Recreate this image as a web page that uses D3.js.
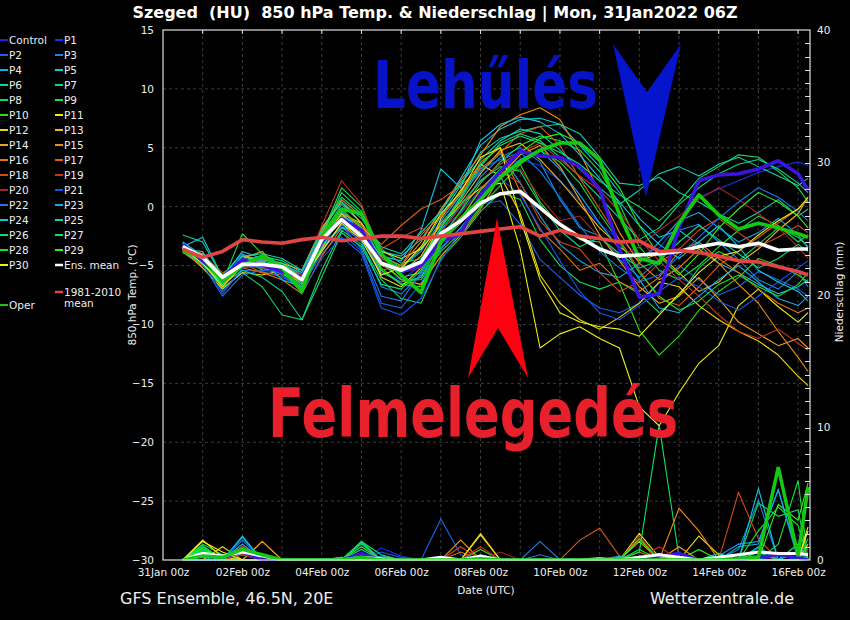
<!DOCTYPE html>
<html>
<head>
<meta charset="utf-8">
<script src="https://cdn.jsdelivr.net/npm/d3@7"></script>
<style>
body { margin: 0; background: #000; }
svg { display: block; font-family: 'DejaVu Sans', sans-serif; }
</style>
</head>
<body>
<svg id="chart" width="850" height="620"></svg>
<script>
// forecast steps, hours after 31Jan2022 00z
const hours = [12,24,36,48,60,72,84,96,108,120,132,144,156,168,180,192,204,216,228,240,252,264,276,288,300,312,324,336,348,360,372,384,390]
// labelled days on the time axis, days after 31Jan2022
const xTickDays = [0,2,4,6,8,10,12,14,16]

const yTicks = [15,10,5,0,-5,-10,-15,-20,-25,-30]
const rTicks = [0,10,20,30,40]

// 850 hPa temperature (°C)
const controlT = [-3.2,-4.6,-6.0,-4.5,-5.0,-5.5,-6.0,-3.0,-1.0,-2.0,-4.8,
  -5.5,-5.0,-3.0,-2.3,1.0,3.0,4.7,4.3,4.2,3.4,1.5,
  -3.6,-7.7,-7.4,-1.8,2.2,2.7,2.8,3.2,3.9,2.8,1.4]
const operT = [-3.8,-4.3,-6.3,-5.0,-4.2,-5.2,-7.2,-2.5,-0.2,-0.6,-4.0,
  -5.8,-7.3,-3.0,-1.0,0.6,2.5,3.8,4.8,5.4,5.4,4.0,
  -0.7,-4.4,-4.8,-1.4,1.0,-0.7,-1.9,-1.4,-1.8,-2.3,-2.6]
const meanT = [-3.4,-4.3,-6.0,-4.9,-4.9,-5.1,-6.2,-2.8,-1.1,-2.5,-4.8,
  -5.4,-4.7,-2.3,-1.2,0.3,1.1,1.3,-0.1,-1.5,-2.6,-3.6,
  -4.2,-4.1,-4.0,-3.8,-3.4,-3.1,-3.4,-3.1,-3.7,-3.6,-3.6]
const climT = [-3.6,-4.3,-3.8,-2.8,-3.0,-3.1,-2.8,-2.6,-2.9,-2.7,-2.5,
  -2.5,-2.7,-2.5,-2.3,-2.1,-1.9,-1.7,-2.5,-2.0,-2.5,-2.7,
  -3.0,-2.9,-3.8,-3.7,-3.9,-4.2,-4.6,-4.7,-5.1,-5.5,-5.8]

const p1T = [-3.6,-4.8,-6.8,-4.6,-5.2,-5.6,-6.5,-3.4,-1.8,-2.9,-5.6,
  -6.2,-5.0,-2.0,-0.5,1.5,3.2,4.0,3.5,2.2,0.5,-1.5,
  -2.8,-4.2,-3.5,-1.5,0.8,1.5,2.2,2.9,3.4,3.8,3.5]
const p2T = [-3.3,-4.4,-7.2,-5.4,-5.5,-6.0,-6.8,-4.0,-2.2,-3.8,-8.2,
  -8.6,-6.5,-3.5,-1.8,0.2,0.5,-1.5,-4.5,-6.0,-7.5,-8.6,
  -9.0,-8.2,-6.5,-5.0,-6.2,-7.5,-6.8,-5.5,-6.2,-7.0,-7.6]
const p3T = [-3.5,-4.3,-6.0,-4.4,-4.6,-5.8,-7.0,-3.6,-1.5,-3.0,-6.8,
  -7.4,-5.8,-2.8,-0.3,2.5,4.2,5.0,3.8,0.6,-1.8,-2.5,
  -4.5,-6.0,-4.5,-2.0,-1.5,-3.0,-4.5,-6.2,-7.0,-5.5,-6.8]
const p4T = [-3.0,-4.2,-5.8,-4.0,-5.0,-5.4,-6.0,-2.2,-0.6,-2.0,-4.8,
  -5.2,-3.8,-1.2,1.0,3.0,4.5,2.0,-0.8,-3.2,-4.6,-5.6,
  -6.0,-4.8,-3.0,-1.2,-0.5,-1.8,-3.0,-2.2,-1.0,-2.4,-3.5]
const p5T = [-3.4,-2.6,-6.0,-3.8,-4.4,-4.8,-5.8,-2.6,-0.8,-1.6,-3.8,
  -4.2,-2.8,-0.4,2.4,5.2,6.6,7.4,7.5,7.0,5.2,3.4,
  1.2,-1.0,-2.6,-2.0,-3.2,-4.8,-5.6,-6.6,-7.4,-6.8,-6.2]
const p6T = [-3.8,-4.9,-6.4,-4.9,-4.6,-5.0,-6.4,-2.5,0.2,-1.4,-4.4,
  -5.2,-3.6,-0.8,1.8,4.6,5.8,6.4,6.8,7.0,6.2,4.2,
  2.0,1.8,2.5,1.2,0.4,-0.6,-1.4,-0.5,0.6,-0.8,-0.2]
const p7T = [-3.2,-4.4,-6.6,-4.6,-4.2,-4.6,-5.6,-2.0,0.8,-0.6,-3.6,
  -4.8,-4.4,-1.8,0.6,3.4,5.4,6.2,5.6,4.2,2.5,0.8,
  -1.0,-2.8,-1.8,0.2,1.6,2.8,3.6,4.0,3.2,2.0,1.2]
const p8T = [-3.5,-4.8,-6.9,-5.6,-6.8,-9.2,-9.6,-5.4,-2.0,-3.2,-6.2,
  -7.8,-8.2,-4.4,-2.6,-0.4,1.2,0.6,-2.8,-5.0,-6.4,-7.0,
  -6.4,-7.4,-9.0,-7.6,-5.2,-3.8,-4.6,-3.2,-1.8,-2.6,-3.4]
const p9T = [-3.3,-4.5,-6.2,-4.2,-4.8,-5.3,-6.8,-2.4,1.6,0.0,-4.0,
  -6.0,-5.6,-2.6,-0.4,2.0,3.8,5.2,6.0,5.6,4.8,3.0,
  0.2,-3.4,-5.4,-6.2,-5.0,-3.4,-2.0,-0.8,-1.6,-3.0,-2.4]
const p10T = [-3.6,-4.0,-5.8,-4.4,-5.4,-5.2,-6.2,-3.0,-1.2,-2.2,-5.2,
  -6.6,-6.0,-3.0,-1.4,0.8,2.8,3.6,0.4,-1.6,-2.8,-3.0,
  -6.5,-10.5,-12.6,-11.0,-8.8,-7.2,-6.0,-4.4,-5.0,-5.8,-6.4]
const p11T = [-3.4,-4.7,-6.6,-4.8,-5.2,-5.4,-6.4,-3.0,-0.6,-1.4,-3.8,
  -4.4,-3.6,-1.6,0.2,1.6,2.0,-3.6,-12.0,-10.8,-10.2,-11.2,
  -12.0,-17.0,-18.6,-15.8,-13.3,-11.8,-8.4,-7.0,-8.5,-9.8,-9.0]
const p12T = [-3.7,-5.2,-7.0,-5.6,-5.8,-5.4,-6.6,-3.6,-0.6,-2.2,-6.0,
  -6.8,-5.2,-1.0,1.4,3.6,2.6,-0.6,-5.8,-8.2,-9.6,-10.4,
  -9.4,-8.2,-6.4,-6.8,-8.4,-9.6,-10.6,-11.4,-12.6,-14.4,-15.2]
const p13T = [-3.1,-4.6,-6.4,-4.2,-4.5,-4.8,-5.4,-1.8,0.4,-1.4,-5.0,
  -5.6,-4.2,-1.4,0.4,2.8,4.8,5.4,4.0,2.2,0.2,-1.8,
  -3.4,-4.6,-4.0,-5.6,-7.2,-6.4,-4.8,-3.6,-2.0,-0.6,0.8]
const p14T = [-3.5,-4.0,-6.6,-4.4,-3.8,-5.6,-6.4,-2.6,-0.4,-1.8,-4.6,
  -6.2,-6.6,-4.2,-2.4,-0.2,2.6,4.4,5.2,3.4,0.6,-2.4,
  -4.6,-6.8,-8.2,-7.6,-6.0,-7.8,-9.8,-10.8,-11.8,-11.2,-12.0]
const p15T = [-3.3,-4.5,-6.2,-4.6,-5.0,-5.2,-6.0,-2.2,0.6,-0.8,-4.2,
  -5.0,-3.0,-0.2,2.2,4.4,6.8,7.8,8.4,7.4,4.6,1.2,
  -2.2,-4.8,-6.2,-5.2,-3.6,-4.8,-6.6,-8.2,-10.6,-12.8,-14.0]
const p16T = [-3.9,-5.0,-6.2,-5.2,-5.6,-6.2,-7.4,-4.2,-1.8,-2.6,-5.4,
  -5.0,-2.4,-0.8,1.0,3.8,5.0,1.2,-2.0,-3.6,-5.4,-4.8,
  -6.4,-7.2,-6.0,-3.8,-3.0,-4.4,-5.6,-7.0,-8.2,-9.0,-8.6]
const p17T = [-3.4,-4.1,-5.6,-4.8,-5.6,-5.8,-6.2,-3.0,-0.4,-1.6,-3.2,
  -1.6,-0.2,0.6,1.8,3.2,4.6,6.2,6.8,5.2,2.4,-0.2,
  -2.8,-5.4,-7.8,-8.4,-6.8,-5.0,-3.8,-2.6,-1.4,-0.2,0.6]
const p18T = [-3.6,-4.7,-6.0,-5.0,-4.4,-5.0,-5.8,-2.8,-1.0,-1.8,-3.6,
  -2.6,-1.8,-2.8,-1.2,1.6,3.0,2.0,-1.2,-3.0,-3.6,-5.6,
  -7.2,-6.4,-4.8,-3.6,-2.0,-1.0,-2.2,-3.4,-2.6,-1.6,-2.2]
const p19T = [-3.2,-4.3,-6.5,-5.0,-5.2,-5.4,-6.0,-1.6,2.2,0.2,-4.4,
  -5.4,-4.8,-2.2,0.0,2.2,3.6,4.6,5.4,4.0,2.6,1.4,
  -0.4,-2.8,-4.6,-6.2,-7.6,-9.2,-10.6,-11.2,-10.4,-11.6,-12.2]
const p20T = [-3.5,-4.4,-6.2,-4.6,-4.8,-5.0,-6.4,-3.2,-0.8,-2.4,-4.6,
  -5.6,-5.2,-2.6,-0.6,1.4,2.8,3.2,0.8,-1.2,-0.8,-2.6,
  -4.2,-3.4,-2.0,-0.8,0.6,1.6,0.6,-0.6,-1.8,-3.4,-4.4]
const p21T = [-3.4,-4.6,-7.4,-5.2,-5.0,-5.8,-7.2,-4.4,-2.6,-4.0,-8.6,
  -9.2,-7.8,-4.6,-2.0,0.6,2.4,1.0,-1.8,-4.6,-7.2,-9.0,
  -9.6,-8.4,-7.2,-6.0,-6.8,-8.0,-8.8,-7.6,-6.4,-5.2,-4.6]
const p22T = [-3.7,-4.9,-7.6,-5.8,-5.4,-5.6,-6.6,-3.8,-1.6,-3.6,-7.6,
  -8.0,-5.6,-1.6,0.8,3.2,4.0,4.6,3.0,0.8,-1.6,-3.8,
  -5.2,-6.4,-5.8,-4.2,-2.6,-1.0,0.4,1.6,0.8,-0.4,-1.2]
const p23T = [-3.0,-4.2,-6.4,-4.4,-5.2,-5.0,-5.6,-2.4,-0.4,-2.6,-5.6,
  -6.4,-6.0,-3.6,-1.8,0.4,2.6,4.0,4.8,3.2,1.0,-1.4,
  -3.6,-6.2,-8.6,-9.0,-7.6,-6.2,-5.0,-6.4,-7.8,-8.4,-7.6]
const p24T = [-3.6,-3.8,-6.8,-4.8,-4.6,-6.2,-6.8,-3.2,-1.8,-2.0,-4.2,
  -4.6,-2.0,3.2,1.6,5.6,7.0,7.6,7.2,6.2,4.4,2.4,
  0.4,-1.6,-3.2,-4.4,-3.0,-1.6,-3.4,-5.4,-6.4,-7.2,-8.0]
const p25T = [-2.4,-3.0,-6.0,-4.2,-4.0,-4.4,-5.4,-2.0,0.4,-1.0,-3.4,
  -4.0,-2.2,-0.4,2.0,4.0,5.6,6.6,6.2,4.8,3.2,1.6,
  0.2,1.4,2.8,3.4,2.6,3.6,4.2,3.4,2.6,1.8,2.4]
const p26T = [-3.8,-4.9,-6.6,-5.4,-6.0,-7.2,-9.6,-6.0,-2.2,-3.4,-6.6,
  -7.0,-5.4,-2.0,0.2,2.2,3.4,3.0,0.2,-2.0,-3.4,-2.6,
  -4.0,-5.2,-4.6,-3.0,-1.6,-2.8,-4.0,-5.2,-4.4,-3.2,-3.8]
const p27T = [-3.3,-4.4,-6.0,-4.6,-4.4,-4.8,-6.0,-2.6,1.2,-0.4,-4.0,
  -5.2,-4.6,-1.8,0.8,3.6,5.2,6.0,5.4,4.6,3.6,2.2,
  1.0,0.0,-1.2,0.4,2.4,3.4,4.4,4.2,3.0,1.6,0.4]
const p28T = [-3.5,-4.7,-6.4,-2.3,-4.0,-5.0,-6.6,-3.4,-0.2,-1.8,-4.8,
  -6.2,-6.2,-3.8,-2.2,0.0,1.8,3.6,4.8,3.8,2.0,-0.6,
  -3.0,-5.6,-7.6,-8.8,-8.0,-6.6,-5.8,-6.8,-7.6,-6.6,-5.6]
const p29T = [-3.2,-4.2,-6.2,-4.6,-5.0,-5.6,-7.0,-2.8,-0.8,-2.0,-5.4,
  -6.6,-6.8,-3.2,-1.0,1.4,3.2,4.6,5.8,6.2,5.4,3.8,
  1.6,-1.6,-4.2,-5.8,-4.0,-1.8,-0.2,1.2,0.4,-0.8,-1.8]
const p30T = [-3.6,-4.8,-6.8,-5.0,-4.8,-5.2,-6.2,-3.8,-1.4,-2.8,-5.8,
  -5.2,-3.4,-0.6,1.2,4.2,5.0,-1.0,-6.2,-9.0,-9.8,-10.2,
  -10.4,-11.0,-9.2,-7.4,-5.6,-4.2,-3.8,-2.4,-1.2,-0.2,0.8]

// precipitation (mm) as [hour, mm]; every other step is dry
const controlR = [[24,0.4],[36,0.2],[48,0.6],[120,0.5],[168,0.2],[192,0.3],[300,0.3],[312,0.5],[360,0.2],[372,0.4],[384,0.2]]
const operR = [[24,0.3],[36,0.2],[48,0.8],[60,0.4],[120,0.2],[192,0.1],[348,0.1],[360,0.2],[372,7.0],[384,0.3],[390,5.5]]
const meanR = [[24,0.5],[36,0.3],[48,0.6],[60,0.3],[120,0.2],[132,0.1],[168,0.2],[192,0.3],[264,0.1],[288,0.2],[300,0.4],[312,0.2],[336,0.2],[348,0.4],[360,0.6],[372,0.5],[384,0.5],[390,0.4]]
const p1R = [[132,0.9],[144,0.3],[300,0.4],[372,0.3]]
const p2R = [[168,3.1],[180,0.4],[372,0.6]]
const p3R = [[48,0.8],[228,1.4],[348,0.8],[360,4.5]]
const p4R = [[48,1.7],[132,0.3],[348,1.0],[360,1.2],[372,5.3]]
const p5R = [[24,0.3],[48,1.0],[360,5.4],[384,0.6]]
const p6R = [[36,0.4],[120,0.5],[276,0.2],[384,1.2],[390,2.0]]
const p7R = [[120,1.2],[300,0.3],[360,1.0],[390,1.6]]
const p8R = [[24,1.0],[48,0.6],[120,1.3],[360,4.3],[372,3.3],[384,3.8]]
const p9R = [[24,1.2],[36,0.4],[288,0.8],[372,1.2],[384,6.0]]
const p10R = [[24,0.8],[48,0.4],[192,0.8],[300,0.5],[348,0.4]]
const p11R = [[24,1.5],[36,0.2],[288,2.0],[300,0.2],[390,2.5]]
const p12R = [[36,1.0],[192,0.3],[324,1.8],[336,0.4]]
const p13R = [[48,0.5],[192,2.0],[288,1.4],[390,1.2]]
const p14R = [[60,1.4],[192,0.2],[312,1.0]]
const p15R = [[60,1.4],[180,1.5],[288,1.6],[312,3.9],[324,2.2]]
const p16R = [[24,0.6],[48,0.8],[180,0.6],[288,0.6]]
const p17R = [[48,1.2],[252,1.5],[264,2.4],[276,0.3]]
const p18R = [[48,1.0],[180,1.0],[288,1.8],[348,5.1],[360,1.6]]
const p19R = [[48,0.6],[192,1.0],[300,1.0],[390,0.8]]
const p20R = [[48,0.4],[204,0.6],[360,0.4]]
const p21R = [[132,0.6],[144,0.2],[168,0.2]]
const p22R = [[48,1.5],[228,0.4],[360,0.9]]
const p23R = [[48,1.2],[108,0.2],[336,0.3],[348,1.2],[360,1.4],[372,5.3],[384,0.3]]
const p24R = [[48,1.8],[108,0.2],[276,0.3],[348,0.4]]
const p25R = [[24,0.7],[120,0.8],[288,0.3],[336,0.5],[384,1.2]]
const p26R = [[24,0.9],[120,1.4],[300,0.4],[360,0.6],[390,1.0]]
const p27R = [[24,1.1],[120,1.4],[132,0.4],[288,0.6],[300,10.2],[312,0.2],[360,0.6]]
const p28R = [[24,0.6],[192,0.4],[288,1.6],[360,2.2],[372,4.0],[384,2.6]]
const p29R = [[24,0.9],[48,0.7],[120,1.0],[324,0.8],[372,4.2],[384,3.0],[390,5.8]]
const p30R = [[24,1.4],[36,0.6],[192,1.9],[300,0.4],[390,2.2]]

const memberNames = ['P1','P2','P3','P4','P5','P6','P7','P8','P9','P10','P11','P12','P13','P14','P15',
  'P16','P17','P18','P19','P20','P21','P22','P23','P24','P25','P26','P27','P28','P29','P30']
const memberTemps = [p1T,p2T,p3T,p4T,p5T,p6T,p7T,p8T,p9T,p10T,p11T,p12T,p13T,p14T,p15T,
  p16T,p17T,p18T,p19T,p20T,p21T,p22T,p23T,p24T,p25T,p26T,p27T,p28T,p29T,p30T]
const memberRain = [p1R,p2R,p3R,p4R,p5R,p6R,p7R,p8R,p9R,p10R,p11R,p12R,p13R,p14R,p15R,
  p16R,p17R,p18R,p19R,p20R,p21R,p22R,p23R,p24R,p25R,p26R,p27R,p28R,p29R,p30R]
const memberColors = ['#1434f0','#1464ec','#1888f0','#14a8e8','#10c8dc','#10d0a4','#10d484','#10d860','#14e040','#28e010',
  '#f0f014','#f0d414','#f0bc14','#f0a414','#f08c10','#e07410','#e05c14','#d8441c','#c83020','#b02024',
  '#1454f0','#1878ec','#18a8f0','#10c4e4','#10d0ac','#10d884','#10e064','#14e030','#2cf014','#f0f014']

const controlColor = '#3c14e0'
const operColor = '#14c814'
const climColor = '#e24444'

const margin = { top: 30, right: 40, bottom: 60, left: 163 }
const width = 810 - margin.left
const height = 560 - margin.top

const svg = d3.select('#chart')
svg.append('rect').attr('width', 850).attr('height', 620).attr('fill', '#000')

const t0 = Date.UTC(2022, 0, 31, 0)
const toDate = h => new Date(t0 + h * 3600e3)

// scales
const x = d3.scaleUtc()
  .domain([toDate(0), toDate(391.2)])
  .range([0, width])
const y = d3.scaleLinear().domain([-30, 15]).range([height, 0])
const yr = d3.scaleLinear().domain([0, 40]).range([height, 0])

const graph = svg.append('g')
  .attr('transform', `translate(${margin.left}, ${margin.top})`)

svg.append('clipPath').attr('id', 'clip')
  .append('rect').attr('width', width).attr('height', height + 1)

// grid
const days = d3.utcDay.range(toDate(24), toDate(391))
graph.append('g').selectAll('line')
  .data(days)
  .enter().append('line')
    .attr('x1', d => x(d)).attr('x2', d => x(d))
    .attr('y1', 0).attr('y2', height)
    .attr('stroke', '#3c3c3c').attr('stroke-dasharray', '3,3')
graph.append('g').selectAll('line')
  .data(yTicks.slice(1, -1))
  .enter().append('line')
    .attr('x1', 0).attr('x2', width)
    .attr('y1', d => y(d)).attr('y2', d => y(d))
    .attr('stroke', '#3c3c3c').attr('stroke-dasharray', '3,3')

const plot = graph.append('g').attr('clip-path', 'url(#clip)')

const line = d3.line()
  .x((d, i) => x(toDate(hours[i])))
  .y(d => y(d))
const rainLine = d3.line()
  .x((d, i) => x(toDate(hours[i])))
  .y(d => yr(d))
const rainSeries = pairs => {
  const m = new Map(pairs)
  return hours.map(h => m.get(h) || 0)
}

// precipitation
memberRain.forEach((r, i) => {
  plot.append('path').datum(rainSeries(r))
    .attr('fill', 'none').attr('stroke', memberColors[i]).attr('stroke-width', 1.1)
    .attr('d', rainLine)
})
plot.append('path').datum(rainSeries(controlR))
  .attr('fill', 'none').attr('stroke', controlColor).attr('stroke-width', 3).attr('d', rainLine)
plot.append('path').datum(rainSeries(meanR))
  .attr('fill', 'none').attr('stroke', '#fff').attr('stroke-width', 3).attr('d', rainLine)
plot.append('path').datum(rainSeries(operR))
  .attr('fill', 'none').attr('stroke', operColor).attr('stroke-width', 3.5).attr('d', rainLine)

// temperature members
memberTemps.forEach((t, i) => {
  plot.append('path').datum(t)
    .attr('fill', 'none').attr('stroke', memberColors[i]).attr('stroke-width', 1.1)
    .attr('stroke-linejoin', 'round')
    .attr('d', line)
})
const thick = [[controlT, controlColor], [operT, operColor], [meanT, '#fff'], [climT, climColor]]
thick.forEach(([t, c]) => {
  plot.append('path').datum(t)
    .attr('fill', 'none').attr('stroke', c).attr('stroke-width', 3.6)
    .attr('stroke-linejoin', 'round')
    .attr('d', line)
})

// frame and axes
const axisColor = '#e0e0e0'
graph.append('rect').attr('width', width).attr('height', height)
  .attr('fill', 'none').attr('stroke', axisColor).attr('stroke-width', 1.2)

const xAxis = d3.axisBottom(x)
  .tickValues(xTickDays.map(d => toDate(d * 24)))
  .tickFormat(d3.utcFormat('%d%b %Hz'))
  .tickSize(0).tickPadding(9)
const xAxisGroup = graph.append('g')
  .attr('transform', `translate(0, ${height})`)
  .call(xAxis)
xAxisGroup.select('.domain').remove()
xAxisGroup.selectAll('text').attr('fill', '#eee').style('font-size', '10.5px')
  .style('font-family', "'DejaVu Sans', sans-serif")

// daily ticks along the top
graph.append('g').selectAll('line')
  .data(days)
  .enter().append('line')
    .attr('x1', d => x(d)).attr('x2', d => x(d))
    .attr('y1', 0).attr('y2', 4)
    .attr('stroke', axisColor)

const yAxis = d3.axisLeft(y).tickValues(yTicks).tickSize(0).tickPadding(9)
const yAxisGroup = graph.append('g').call(yAxis)
yAxisGroup.select('.domain').remove()
yAxisGroup.selectAll('text').attr('fill', '#eee').style('font-size', '10.5px')
  .style('font-family', "'DejaVu Sans', sans-serif")

const yrAxis = d3.axisRight(yr).tickValues(rTicks).tickSize(0).tickPadding(7)
const yrAxisGroup = graph.append('g').attr('transform', `translate(${width}, 0)`).call(yrAxis)
yrAxisGroup.select('.domain').remove()
yrAxisGroup.selectAll('text').attr('fill', '#eee').style('font-size', '10.5px')
  .style('font-family', "'DejaVu Sans', sans-serif")
graph.append('g').selectAll('line')
  .data(d3.range(1, 40))
  .enter().append('line')
    .attr('x1', width - 5).attr('x2', width)
    .attr('y1', d => Math.round(yr(d)) + 0.5).attr('y2', d => Math.round(yr(d)) + 0.5)
    .attr('stroke', axisColor)

// axis titles
svg.append('text')
  .attr('transform', 'translate(136, 295) rotate(-90)')
  .attr('text-anchor', 'middle').attr('fill', '#eee').style('font-size', '10.5px')
  .text('850 hPa Temp. (°C)')
svg.append('text')
  .attr('transform', 'translate(843, 292) rotate(-90)')
  .attr('text-anchor', 'middle').attr('fill', '#eee').style('font-size', '10.5px')
  .text('Niederschlag (mm)')
svg.append('text')
  .attr('x', 486).attr('y', 594)
  .attr('text-anchor', 'middle').attr('fill', '#eee').style('font-size', '10.5px')
  .text('Date (UTC)')

// title and footer
svg.append('text')
  .attr('x', 435).attr('y', 18)
  .attr('text-anchor', 'middle').attr('fill', '#fff')
  .attr('xml:space', 'preserve')
  .style('font-weight', 'bold').style('font-size', '16px')
  .text('Szeged  (HU)  850 hPa Temp. & Niederschlag | Mon, 31Jan2022 06Z')
svg.append('text')
  .attr('x', 120).attr('y', 604).attr('fill', '#eee').style('font-size', '16px')
  .text('GFS Ensemble, 46.5N, 20E')
svg.append('text')
  .attr('x', 794).attr('y', 604).attr('text-anchor', 'end').attr('fill', '#eee').style('font-size', '16px')
  .text('Wetterzentrale.de')

// legend
const legendItems = [{ name: 'Control', color: controlColor, w: 2 }]
memberNames.forEach((n, i) => legendItems.push({ name: n, color: memberColors[i], w: 2 }))
legendItems.push({ name: 'Ens. mean', color: '#fff', w: 2.5 })
const legend = svg.append('g').style('font-size', '10.5px')
legendItems.forEach((d, i) => {
  const col = i % 2
  const row = Math.floor(i / 2)
  const lx = col ? 55 : 0
  const ly = 40 + row * 15
  legend.append('line')
    .attr('x1', lx).attr('x2', lx + 8).attr('y1', ly).attr('y2', ly)
    .attr('stroke', d.color).attr('stroke-width', d.w)
  legend.append('text').attr('x', lx + 9).attr('y', ly + 4).attr('fill', '#eee').text(d.name)
})
legend.append('line').attr('x1', 55).attr('x2', 63).attr('y1', 292).attr('y2', 292)
  .attr('stroke', climColor).attr('stroke-width', 2.5)
legend.append('text').attr('x', 64).attr('y', 296).attr('fill', '#eee').text('1981-2010')
legend.append('text').attr('x', 64).attr('y', 307).attr('fill', '#eee').text('mean')
legend.append('line').attr('x1', 0).attr('x2', 8).attr('y1', 305).attr('y2', 305)
  .attr('stroke', operColor).attr('stroke-width', 2)
legend.append('text').attr('x', 9).attr('y', 309).attr('fill', '#eee').text('Oper')

// annotations
const bigFont = "'DejaVu Sans Condensed', 'DejaVu Sans', sans-serif"
svg.append('polygon')
  .attr('points', '613,44 647,92 681,44 646,197')
  .attr('fill', '#0614cc')
svg.append('text')
  .attr('x', 373).attr('y', 108)
  .attr('textLength', 225).attr('lengthAdjust', 'spacingAndGlyphs')
  .attr('fill', '#0813c8').style('font-family', bigFont)
  .style('font-weight', 'bold').style('font-size', '66px')
  .text('Lehűlés')
svg.append('polygon')
  .attr('points', '468,378 498,328 528,378 497,218')
  .attr('fill', '#ff0010')
svg.append('text')
  .attr('x', 268).attr('y', 437)
  .attr('textLength', 410).attr('lengthAdjust', 'spacingAndGlyphs')
  .attr('fill', '#e8202c').style('font-family', bigFont)
  .style('font-weight', 'bold').style('font-size', '67px')
  .text('Felmelegedés')
</script>
</body>
</html>
